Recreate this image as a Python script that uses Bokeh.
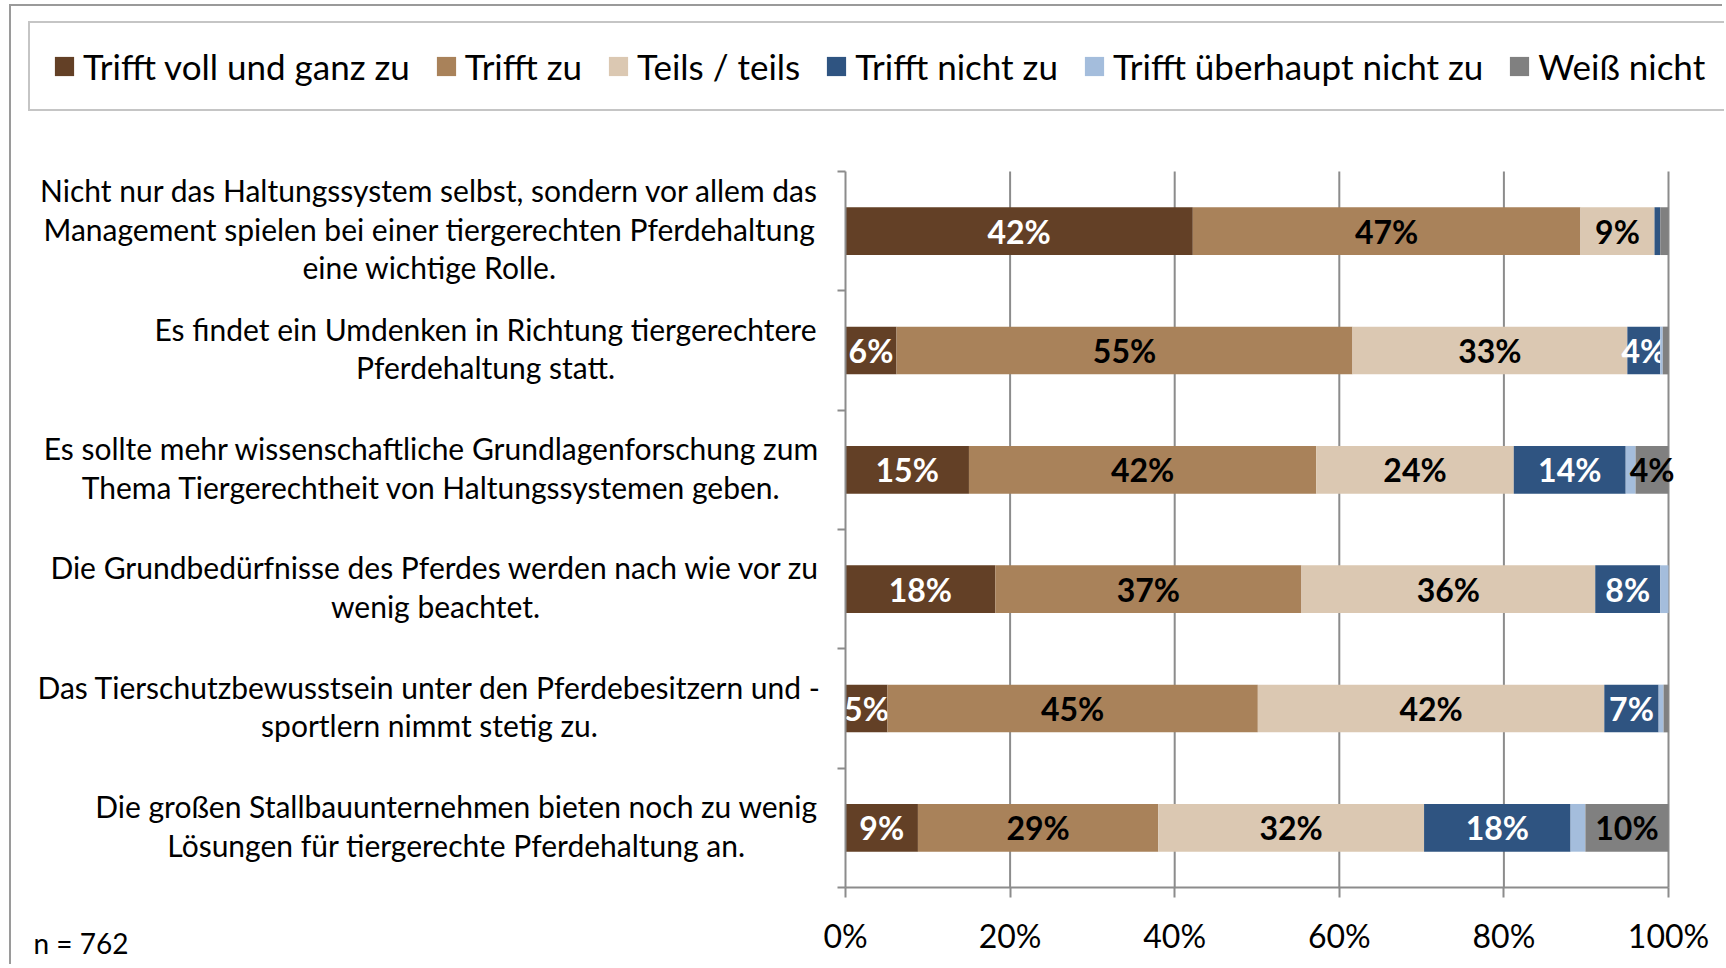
from bokeh.plotting import figure
from bokeh.models import ColumnDataSource, Range1d, FixedTicker, Legend, LegendItem
from bokeh.core.properties import value
from bokeh.embed import file_html
from bokeh.resources import INLINE

categories = [
    "Nicht nur das Haltungssystem selbst, sondern vor allem das\nManagement spielen bei einer tiergerechten Pferdehaltung\neine wichtige Rolle.",
    "Es findet ein Umdenken in Richtung tiergerechtere\nPferdehaltung statt.",
    "Es sollte mehr wissenschaftliche Grundlagenforschung zum\nThema Tiergerechtheit von Haltungssystemen geben.",
    "Die Grundbedürfnisse des Pferdes werden nach wie vor zu\nwenig beachtet.",
    "Das Tierschutzbewusstsein unter den Pferdebesitzern und -\nsportlern nimmt stetig zu.",
    "Die großen Stallbauunternehmen bieten noch zu wenig\nLösungen für tiergerechte Pferdehaltung an.",
]
series = ["Trifft voll und ganz zu", "Trifft zu", "Teils / teils", "Trifft nicht zu",
          "Trifft überhaupt nicht zu", "Weiß nicht"]
voll = [42.2, 6.2, 15.0, 18.2, 5.1, 8.8]
zu = [47.1, 55.4, 42.2, 37.2, 45.0, 29.2]
teils = [9.0, 33.4, 24.0, 35.7, 42.1, 32.3]
nicht = [0.7, 4.0, 13.6, 7.9, 6.6, 17.8]
ueberhaupt = [0.0, 0.3, 1.2, 1.0, 0.6, 1.8]
weiss = [1.0, 0.7, 4.0, 0.0, 0.6, 10.1]
x_ticks = [0, 20, 40, 60, 80, 100]
x_tick_labels = ["0%", "20%", "40%", "60%", "80%", "100%"]
note = "n = 762"

colors = ["#634026", "#A9825A", "#DBC8B2", "#2F5481", "#A4BDDC", "#808080"]
label_colors = ["white", "black", "black", "white", "black", "black"]
all_series = [voll, zu, teils, nicht, ueberhaupt, weiss]

FONT = "Lato"
GRID = "#8c8c8c"

# layout geometry (figure pixels; page = figure + (11, 6))
W, H = 1713, 960
X0_PX, X100_PX = 834, 1657          # 0 % and 100 % positions
Y0_PX, Y6_PX = 881, 165             # bottom / top of the category band area
n = len(categories)
xu = (X100_PX - X0_PX) / 100.0
yu = (Y0_PX - Y6_PX) / float(n)

p = figure(width=W, height=H,
           x_range=Range1d(-X0_PX / xu, (W - X0_PX) / xu),
           y_range=Range1d(-(H - Y0_PX) / yu, n + Y6_PX / yu),
           toolbar_location=None, output_backend="svg",
           min_border=0, min_border_left=0, min_border_right=0,
           min_border_top=0, min_border_bottom=0,
           styles={"border-left": "2px solid #9a9a9a", "border-top": "2px solid #9a9a9a",
                   "margin-left": "9px", "margin-top": "4px"})
p.outline_line_color = None
p.background_fill_color = "white"
p.xgrid.visible = False
p.ygrid.visible = False

# vertical grid lines
p.segment(x0=x_ticks[1:], x1=x_ticks[1:], y0=[0] * 5, y1=[n] * 5,
          line_color=GRID, line_width=2, level="underlay")

ys = [n - 0.5 - i for i in range(n)]
left = [0.0] * n
items = []
for k, vals in enumerate(all_series):
    right = [l + v for l, v in zip(left, vals)]
    src = ColumnDataSource(dict(y=ys, left=left, right=right))
    r = p.hbar(y="y", left="left", right="right", height=0.4, source=src,
               fill_color=colors[k], line_color=None)
    items.append(LegendItem(label=series[k], renderers=[r]))
    keep = [i for i, v in enumerate(vals) if v >= 3]
    lab_src = ColumnDataSource(dict(
        x=[(left[i] + right[i]) / 2 for i in keep],
        y=[ys[i] for i in keep],
        lab=["%d%%" % round(vals[i]) for i in keep]))
    p.text(x="x", y="y", text="lab", source=lab_src, text_align="center",
           text_baseline="middle", text_font=value(FONT), text_font_style="bold",
           text_font_size="32px", text_color=label_colors[k])
    left = right

# x axis
p.xaxis.fixed_location = 0
p.xaxis.bounds = (0, 100)
p.xaxis.ticker = FixedTicker(ticks=x_ticks)
p.xaxis.major_label_overrides = {t: s for t, s in zip(x_ticks, x_tick_labels)}
p.xaxis.major_label_text_font = FONT
p.xaxis.major_label_text_font_size = "32px"
p.xaxis.major_label_text_color = "black"
p.xaxis.major_label_standoff = 18
p.xaxis.axis_line_color = GRID
p.xaxis.axis_line_width = 2
p.xaxis.major_tick_line_color = GRID
p.xaxis.major_tick_line_width = 2
p.xaxis.major_tick_out = 10
p.xaxis.major_tick_in = 0
p.xaxis.minor_tick_line_color = None

# y axis (category boundaries, labels drawn separately)
p.yaxis.fixed_location = 0
p.yaxis.bounds = (0, n)
p.yaxis.ticker = FixedTicker(ticks=list(range(n + 1)))
p.yaxis.major_label_overrides = {i: "" for i in range(n + 1)}
p.yaxis.axis_line_color = GRID
p.yaxis.axis_line_width = 2
p.yaxis.major_tick_line_color = GRID
p.yaxis.major_tick_line_width = 2
p.yaxis.major_tick_out = 8
p.yaxis.major_tick_in = 0
p.yaxis.minor_tick_line_color = None

# category labels (centred multi-line blocks)
centers_px = [418, 474, 420, 424, 418, 445]
line_gap = 38.8 / yu
cx, cy, ct = [], [], []
for i, cat in enumerate(categories):
    lines = cat.split("\n")
    m = len(lines)
    for j, line in enumerate(lines):
        cx.append((centers_px[i] - X0_PX) / xu)
        cy.append(ys[i] + ((m - 1) / 2 - j) * line_gap + 2.5 / yu)
        ct.append(line)
p.text(x=cx, y=cy, text=ct, text_align="center", text_baseline="middle",
       text_font=value(FONT), text_font_size="30px", text_color="black")

p.text(x=[(22 - X0_PX) / xu], y=[-(936 - Y0_PX) / yu], text=[note], text_align="left",
       text_baseline="middle", text_font=value(FONT), text_font_size="28px",
       text_color="black")

legend = Legend(items=items, orientation="horizontal", location=(17, H - 105),
                glyph_width=24, glyph_height=24, label_standoff=7, spacing=24,
                padding=22, margin=0, label_height=40, label_text_font=FONT,
                label_text_font_size="35px", label_text_color="black",
                border_line_color=GRID, border_line_width=2,
                background_fill_color="white", background_fill_alpha=1)
p.add_layout(legend)

open("out.html", "w").write(file_html(p, INLINE))
